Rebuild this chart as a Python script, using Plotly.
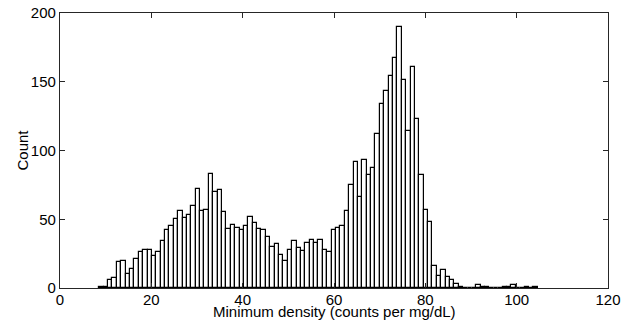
import plotly.graph_objects as go

# Histogram: 100 equal bins between data min and max
bin_start = 8.6
bin_width = 0.96
counts = [1, 1, 6, 7, 19, 20, 10, 14, 21, 26,
          28, 28, 23, 26, 34, 42, 45, 50, 56, 51,
          53, 60, 72, 56, 57, 83, 70, 71, 55, 43,
          46, 44, 42, 45, 52, 47, 43, 42, 37, 30,
          32, 24, 20, 28, 34, 29, 27, 33, 35, 33,
          35, 28, 26, 42, 44, 45, 56, 75, 92, 66,
          93, 82, 87, 112, 134, 143, 154, 167, 190, 151,
          114, 161, 123, 82, 57, 48, 16, 9, 13, 8,
          6, 3, 1, 0, 0, 0, 2, 1, 1, 0,
          0, 0, 1, 1, 2, 0, 0, 1, 0, 1]
centers = [bin_start + bin_width * (i + 0.5) for i in range(len(counts))]

x_ticks = [0, 20, 40, 60, 80, 100, 120]
y_ticks = [0, 50, 100, 150, 200]

font = dict(family="Liberation Sans, Arial, sans-serif", size=15, color="#000")

fig = go.Figure(go.Bar(
    x=centers, y=counts, width=bin_width,
    marker=dict(color="white", line=dict(color="black", width=1.2)),
    showlegend=False,
))

axis_common = dict(
    showgrid=False, zeroline=False, showline=True, linecolor="#262626", linewidth=1.3,
    mirror="ticks", ticks="inside", ticklen=5, tickcolor="#262626", tickwidth=1,
    tickfont=font, automargin=False,
)
fig.update_layout(
    width=632, height=322,
    margin=dict(l=60, r=24, t=13, b=34),
    paper_bgcolor="white", plot_bgcolor="white",
    bargap=0, font=font,
    xaxis=dict(range=[0, 120], tickvals=x_ticks, ticklabelstandoff=-2, **axis_common),
    yaxis=dict(range=[0, 200], tickvals=y_ticks, **axis_common),
    annotations=[
        dict(text="Minimum density (counts per mg/dL)", font=font,
             xref="paper", yref="paper", x=0.5, y=-14 / 275,
             xanchor="center", yanchor="top", showarrow=False, borderpad=0),
        dict(text="Count", font=font, textangle=-90,
             xref="paper", yref="paper", x=-38 / 548, y=0.5,
             xanchor="center", yanchor="middle", showarrow=False, borderpad=0),
    ],
)
fig.write_html("out.html")
